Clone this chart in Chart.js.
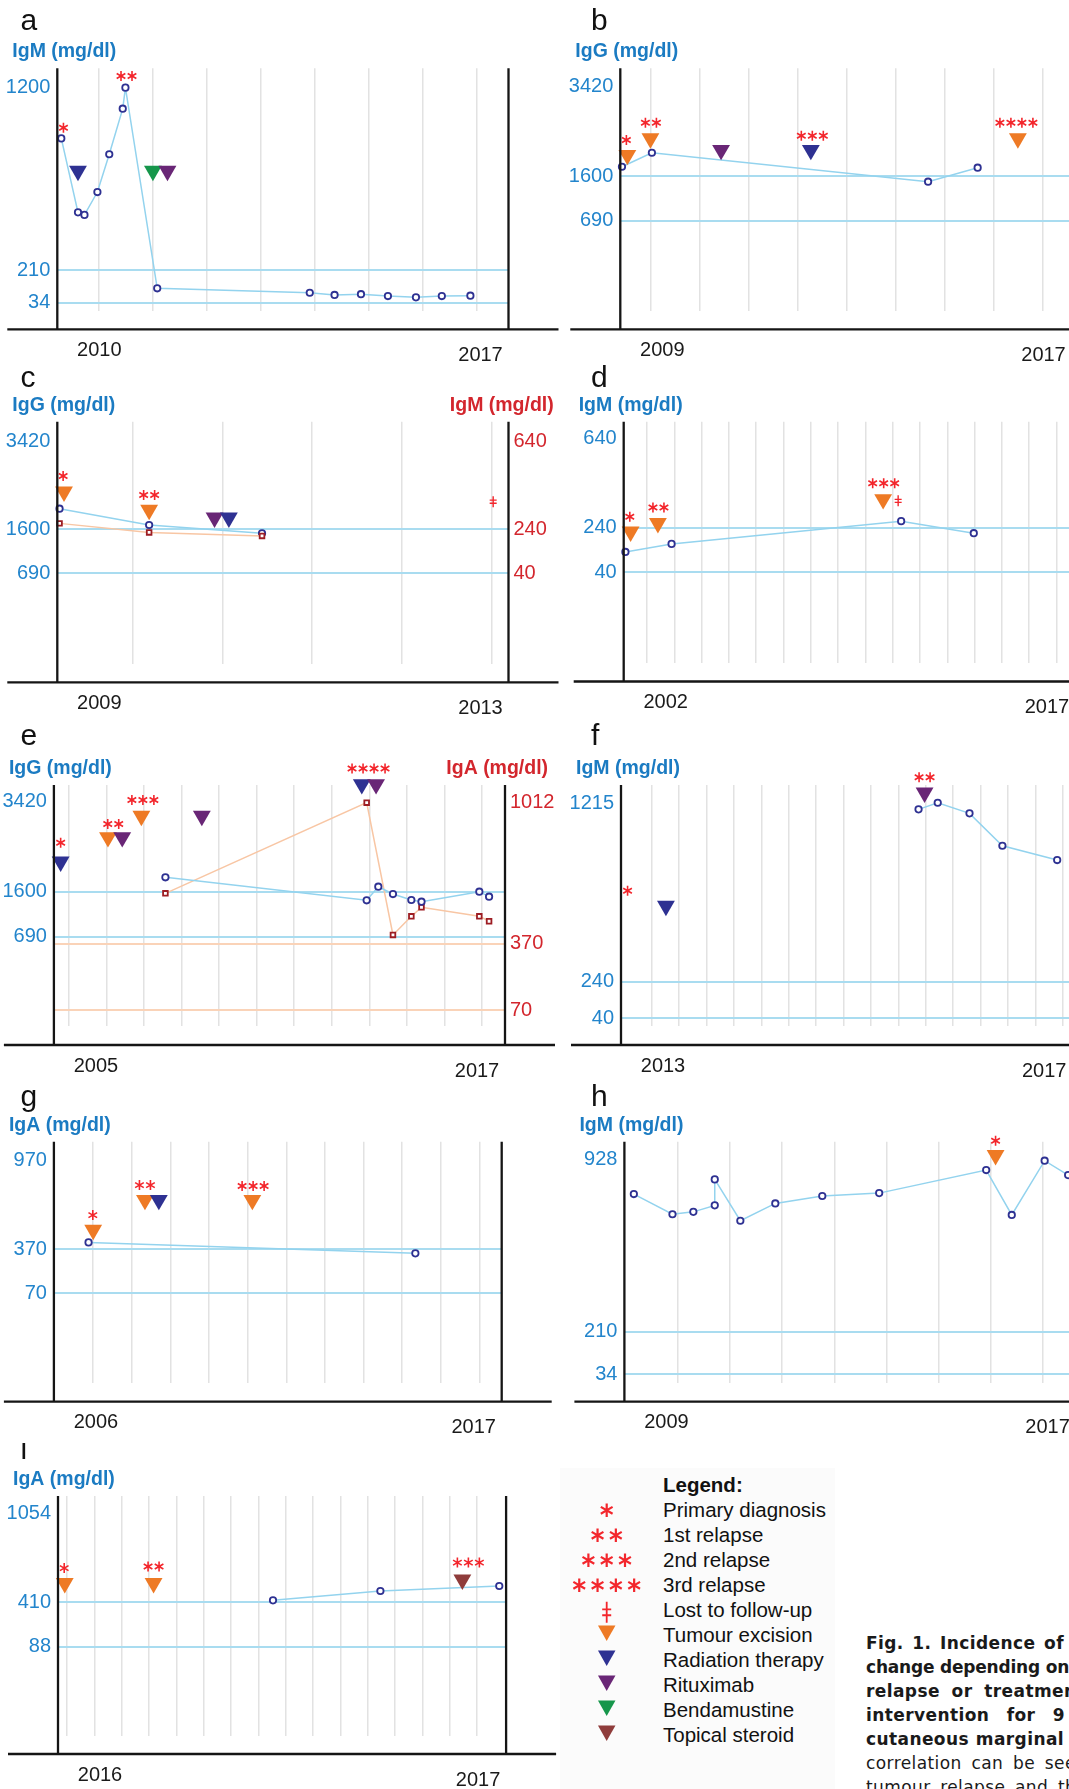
<!DOCTYPE html>
<html>
<head>
<meta charset="utf-8">
<script src="https://cdn.jsdelivr.net/npm/chart.js"></script>
<style>
  html, body { margin: 0; padding: 0; background: #fff; }
  body { width: 1069px; height: 1789px; overflow: hidden; position: relative; font-family: "Liberation Sans", Arial, sans-serif; }
  canvas { position: absolute; }
  .tint { position: absolute; background: #fbfbfb; }
  .lg { position: absolute; left: 663px; font-size: 20.5px; line-height: 20px; color: #111; white-space: nowrap; }
  .cap { position: absolute; left: 866px; font-family: "DejaVu Sans", Verdana, sans-serif; font-size: 17px; line-height: 20px; color: #1a1a1a; white-space: nowrap; text-align: justify; text-align-last: justify; letter-spacing: .4px; }
</style>
</head>
<body>
<div class="tint" style="left:560px;top:1468px;width:275px;height:321px"></div>
<script>
// ---- a: IgM
const aYears = [2009.30, 2009.61, 2009.73, 2009.97, 2010.19, 2010.44, 2010.49, 2011.08, 2013.91, 2014.37, 2014.86, 2015.36, 2015.88, 2016.36, 2016.89]
const aIgM = [925, 524, 510, 634, 839, 1086, 1200, 112, 88, 76, 80, 70, 63, 70, 72]
const aTxYears = [2009.61, 2011.0, 2011.27]
const aTxLevels = [748, 748, 748]
const aTxKinds = ['radiation', 'bendamustine', 'rituximab']
const aRelYears = [2009.34, 2010.51]
const aRelLevels = [983, 1263]
const aRelStars = [1, 2]
const aTicks = [34, 210, 1200]
const aNormal = [34, 210]
const aGrid = [2010, 2011, 2012, 2013, 2014, 2015, 2016, 2017]
const aYearLabels = ['2010', '2017']

// ---- b: IgG
const bYears = [2008.42, 2009.03, 2014.66, 2015.67]
const bIgG = [1789, 2074, 1484, 1769]
const bTxYears = [2008.53, 2009.0, 2010.44, 2012.27, 2016.49]
const bTxLevels = [2027, 2367, 2129, 2129, 2367]
const bTxKinds = ['excision', 'excision', 'rituximab', 'radiation', 'excision']
const bRelYears = [2008.51, 2009.01, 2012.3, 2016.46]
const bRelLevels = [2333, 2685, 2420, 2685]
const bRelStars = [1, 2, 3, 4]
const bTicks = [690, 1600, 3420]
const bNormal = [690, 1600]
const bGrid = [2009, 2010, 2011, 2012, 2013, 2014, 2015, 2016, 2017]
const bYearLabels = ['2009', '2017']

// ---- c: IgG (left) + IgM (right)
const cYears = [2008.18, 2009.18, 2010.44]
const cIgG = [2026, 1689, 1517]
const cIgM = [267, 226, 210]
const cTxYears = [2008.23, 2009.18, 2009.91, 2010.07]
const cTxLevels = [2378, 1999, 1840, 1840]
const cTxKinds = ['excision', 'excision', 'rituximab', 'radiation']
const cRelYears = [2008.22, 2009.18]
const cRelLevels = [2702, 2309]
const cRelStars = [1, 2]
const cLostYears = [2013.02]
const cLostLevels = [2171]
const cTicks = [690, 1600, 3420]
const cNormal = [690, 1600]
const cTicksRight = [40, 240, 640]
const cGrid = [2009, 2010, 2011, 2012, 2013]
const cYearLabels = ['2009', '2013']

// ---- d: IgM
const dYears = [2001.21, 2002.9, 2011.31, 2013.97]
const dIgM = [131, 167, 269, 215]
const dTxYears = [2001.4, 2002.4, 2010.65]
const dTxLevels = [222, 260, 367]
const dTxKinds = ['excision', 'excision', 'excision']
const dRelYears = [2001.37, 2002.42, 2010.67]
const dRelLevels = [289, 330, 439]
const dRelStars = [1, 2, 3]
const dLostYears = [2011.2]
const dLostLevels = [360]
const dTicks = [40, 240, 640]
const dNormal = [40, 240]
const dGrid = [2002, 2003, 2004, 2005, 2006, 2007, 2008, 2009, 2010, 2011, 2012, 2013, 2014, 2015, 2016, 2017]
const dYearLabels = ['2002', '2017']

// ---- e: IgG (left) + IgA (right)
const eYears = [2008.57, 2013.93, 2014.24, 2014.63, 2015.12, 2015.39, 2016.93, 2017.19]
const eIgG = [1891, 1426, 1701, 1553, 1432, 1398, 1600, 1499]
const eIgAYears = [2008.57, 2013.93, 2014.63, 2015.12, 2015.39, 2016.93, 2017.19]
const eIgA = [599, 1009, 411, 495, 536, 495, 473]
const eTxYears = [2005.78, 2007.04, 2007.42, 2007.93, 2009.54, 2013.8, 2014.18]
const eTxLevels = [2207, 2700, 2700, 3131, 3131, 3772, 3772]
const eTxKinds = ['radiation', 'excision', 'rituximab', 'excision', 'rituximab', 'radiation', 'rituximab']
const eRelYears = [2005.78, 2007.18, 2007.97, 2013.98]
const eRelLevels = [2591, 2969, 3454, 4092]
const eRelStars = [1, 2, 3, 4]
const eTicks = [690, 1600, 3420]
const eNormal = [690, 1600]
const eTicksRight = [70, 370, 1012]
const eNormalRight = [70, 370]
const eGrid = [2006, 2007, 2008, 2009, 2010, 2011, 2012, 2013, 2014, 2015, 2016, 2017]
const eYearLabels = ['2005', '2017']

// ---- f: IgM
const fYears = [2015.435, 2015.61, 2015.9, 2016.2, 2016.70]
const fIgM = [1182, 1218, 1160, 983, 905]
const fTxYears = [2013.13, 2015.49]
const fTxLevels = [654, 1273]
const fTxKinds = ['radiation', 'rituximab']
const fRelYears = [2012.78, 2015.49]
const fRelLevels = [737, 1357]
const fRelStars = [1, 2]
const fTicks = [40, 240, 1215]
const fNormal = [40, 240]
const fGrid = [2013, 2013.25, 2013.5, 2013.75, 2014, 2014.25, 2014.5, 2014.75, 2015, 2015.25, 2015.5, 2015.75, 2016, 2016.25, 2016.5, 2016.75]
const fYearLabels = ['2013', '2017']

// ---- g: IgA
const gYears = [2006.88, 2015.34]
const gIgA = [415, 341]
const gTxYears = [2007.0, 2008.34, 2008.7, 2011.12]
const gTxLevels = [499, 702, 702, 702]
const gTxKinds = ['excision', 'excision', 'radiation', 'excision']
const gRelYears = [2006.99, 2008.34, 2011.14]
const gRelLevels = [600, 803, 797]
const gRelStars = [1, 2, 3]
const gTicks = [70, 370, 970]
const gNormal = [70, 370]
const gGrid = [2007, 2008, 2009, 2010, 2011, 2012, 2013, 2014, 2015, 2016, 2017]
const gYearLabels = ['2006', '2017']

// ---- h: IgM
const hYears = [2009.16, 2009.9, 2010.3, 2010.71, 2010.71, 2011.2, 2011.87, 2012.77, 2013.86, 2015.91, 2016.4, 2017.03, 2017.48]
const hIgM = [783, 699, 709, 736, 844, 672, 744, 775, 787, 883, 696, 922, 862]
const hTxYears = [2016.09]
const hTxLevels = [945]
const hTxKinds = ['excision']
const hRelYears = [2016.09]
const hRelLevels = [1005]
const hRelStars = [1]
const hTicks = [34, 210, 928]
const hNormal = [34, 210]
const hGrid = [2010, 2011, 2012, 2013, 2014, 2015, 2016, 2017]
const hYearLabels = ['2009', '2017']

// ---- i: IgA (months from start)
const iMonths = [7.53, 11.46, 15.81]
const iIgA = [424, 492, 528]
const iTxMonths = [-0.09, 3.16, 14.46]
const iTxLevels = [548, 548, 574]
const iTxKinds = ['excision', 'excision', 'steroid']
const iRelMonths = [-0.11, 3.16, 14.68]
const iRelLevels = [658, 670, 698]
const iRelStars = [1, 2, 3]
const iTicks = [88, 410, 1054]
const iNormal = [88, 410]
const iGrid = [0, 1, 2, 3, 4, 5, 6, 7, 8, 9, 10, 11, 12, 13, 14, 15]
const iYearLabels = ['2016', '2017']

// ---- legend / caption
const legendLabels = ['Primary diagnosis', '1st relapse', '2nd relapse', '3rd relapse', 'Lost to follow-up', 'Tumour excision', 'Radiation therapy', 'Rituximab', 'Bendamustine', 'Topical steroid']
const legendKinds = ['star1', 'star2', 'star3', 'star4', 'lost', 'excision', 'radiation', 'rituximab', 'bendamustine', 'steroid']
const captionLines = ['Fig. 1. Incidence of', 'change depending on', 'relapse or treatment', 'intervention for 9', 'cutaneous marginal', 'correlation can be seen', 'tumour relapse and the']

const FONT = '"Liberation Sans", Arial, sans-serif'
const BLUE = '#2385cc'
const TITLE_BLUE = '#1b7bc2'
const RED_TEXT = '#d3262d'
const STAR_RED = '#f3262c'
const NAVY = '#2e3192'
const LINE_BLUE = '#93d3ee'
const NORMAL_BLUE = '#a9dcf0'
const PEACH = '#f8c6a4'
const NORMAL_PEACH = '#fad3b8'
const SQUARE_RED = '#9d1d23'
const TX_COLORS = {
  excision: '#ee7a25',
  radiation: '#2e3192',
  rituximab: '#692676',
  bendamustine: '#16964b',
  steroid: '#8f3c3b'
}

function drawStar(ctx, x, y, r) {
  ctx.beginPath()
  for (const a of [90, 30, -30]) {
    const dx = Math.cos(a * Math.PI / 180) * r
    const dy = Math.sin(a * Math.PI / 180) * r
    ctx.moveTo(x - dx, y - dy)
    ctx.lineTo(x + dx, y + dy)
  }
  ctx.stroke()
}

function drawStars(ctx, x, y, n, r, pitch) {
  for (let k = 0; k < n; k++) drawStar(ctx, x + (k - (n - 1) / 2) * pitch, y, r)
}

function drawDagger(ctx, x, y, h, w) {
  ctx.beginPath()
  ctx.moveTo(x, y - h / 2)
  ctx.lineTo(x, y + h / 2)
  ctx.moveTo(x - w / 2, y - h * 0.14)
  ctx.lineTo(x + w / 2, y - h * 0.14)
  ctx.moveTo(x - w / 2, y + h * 0.14)
  ctx.lineTo(x + w / 2, y + h * 0.14)
  ctx.stroke()
}

function drawTriangle(ctx, x, y, w, h, color) {
  ctx.fillStyle = color
  ctx.beginPath()
  ctx.moveTo(x - w / 2, y - h / 2)
  ctx.lineTo(x + w / 2, y - h / 2)
  ctx.lineTo(x, y + h / 2)
  ctx.closePath()
  ctx.fill()
}

const LEFT = { left: 0, w: 580, letterX: 20.5 }
const RIGHT = { left: 535, w: 560, letterX: 591 }

const panels = [
  { key: 'a', title: 'IgM (mg/dl)', grid: aGrid, yearLabels: aYearLabels,
    series: [{ x: aYears, y: aIgM }], yTicks: aTicks, yNormal: aNormal,
    tx: { x: aTxYears, y: aTxLevels, kind: aTxKinds }, rel: { x: aRelYears, y: aRelLevels, n: aRelStars },
    box: { ...LEFT, top: 0, h: 380, axL: 57.3, axR: 508.5, axTop: 68.3, gridBottom: 311, base: 329.3, letterY: 29.5, xMin: 2009.226, xMax: 2017.597, yMin: -11, yMax: 1305 } },
  { key: 'b', title: 'IgG (mg/dl)', grid: bGrid, yearLabels: bYearLabels,
    series: [{ x: bYears, y: bIgG }], yTicks: bTicks, yNormal: bNormal,
    tx: { x: bTxYears, y: bTxLevels, kind: bTxKinds }, rel: { x: bRelYears, y: bRelLevels, n: bRelStars },
    box: { ...RIGHT, top: 0, h: 380, axL: 620.3, axR: 1071.5, axTop: 68.3, gridBottom: 311, base: 329.3, letterY: 29.5, xMin: 2008.386, xMax: 2017.583, yMin: -1148, yMax: 3793 } },
  { key: 'c', title: 'IgG (mg/dl)', title2: 'IgM (mg/dl)', grid: cGrid, yearLabels: cYearLabels,
    series: [{ x: cYears, y: cIgM, right: true }, { x: cYears, y: cIgG }], yTicks: cTicks, yNormal: cNormal,
    y2Ticks: cTicksRight, y2Normal: [],
    tx: { x: cTxYears, y: cTxLevels, kind: cTxKinds }, rel: { x: cRelYears, y: cRelLevels, n: cRelStars },
    lost: { x: cLostYears, y: cLostLevels },
    box: { ...LEFT, top: 360, h: 380, axL: 57.3, axR: 508.5, axTop: 421.7, gridBottom: 664, base: 682.3, letterY: 387, xMin: 2008.155, xMax: 2013.191, yMin: -1186, yMax: 3825, y2Min: -372, y2Max: 729 } },
  { key: 'd', title: 'IgM (mg/dl)', grid: dGrid, yearLabels: dYearLabels,
    series: [{ x: dYears, y: dIgM }], yTicks: dTicks, yNormal: dNormal,
    tx: { x: dTxYears, y: dTxLevels, kind: dTxKinds }, rel: { x: dRelYears, y: dRelLevels, n: dRelStars },
    lost: { x: dLostYears, y: dLostLevels },
    box: { ...RIGHT, top: 360, h: 380, axL: 623.7, axR: 1074.9, axTop: 421.7, gridBottom: 663, base: 681.5, letterY: 387, xMin: 2001.147, xMax: 2017.674, yMin: -367, yMax: 715 } },
  { key: 'e', title: 'IgG (mg/dl)', title2: 'IgA (mg/dl)', grid: eGrid, yearLabels: eYearLabels,
    series: [{ x: eYears, y: eIgG }, { x: eIgAYears, y: eIgA, right: true }], yTicks: eTicks, yNormal: eNormal,
    y2Ticks: eTicksRight, y2Normal: eNormalRight,
    tx: { x: eTxYears, y: eTxLevels, kind: eTxKinds }, rel: { x: eRelYears, y: eRelLevels, n: eRelStars },
    box: { ...LEFT, top: 720, h: 380, axL: 53.9, axR: 505, axTop: 785, gridBottom: 1026, base: 1045, letterY: 745, xMin: 2005.6, xMax: 2017.614, yMin: -1116, yMax: 3758, y2Min: -1, y2Max: 1089 } },
  { key: 'f', title: 'IgM (mg/dl)', grid: fGrid, yearLabels: fYearLabels,
    series: [{ x: fYears, y: fIgM }], yTicks: fTicks, yNormal: fNormal,
    tx: { x: fTxYears, y: fTxLevels, kind: fTxKinds }, rel: { x: fRelYears, y: fRelLevels, n: fRelStars },
    box: { ...RIGHT, top: 720, h: 380, axL: 621, axR: 1072.2, axTop: 785, gridBottom: 1026, base: 1045, letterY: 745, xMin: 2012.72, xMax: 2016.837, yMin: -2, yMax: 1315 } },
  { key: 'g', title: 'IgA (mg/dl)', grid: gGrid, yearLabels: gYearLabels,
    series: [{ x: gYears, y: gIgA }], yTicks: gTicks, yNormal: gNormal,
    tx: { x: gTxYears, y: gTxLevels, kind: gTxKinds }, rel: { x: gRelYears, y: gRelLevels, n: gRelStars },
    box: { ...LEFT, top: 1080, h: 380, axL: 53.9, axR: 501.7, axTop: 1141.7, gridBottom: 1383.3, base: 1401.7, letterY: 1106, xMin: 2005.983, xMax: 2017.575, yMin: -539, yMax: 1097 } },
  { key: 'h', title: 'IgM (mg/dl)', grid: hGrid, yearLabels: hYearLabels,
    series: [{ x: hYears, y: hIgM }], yTicks: hTicks, yNormal: hNormal,
    tx: { x: hTxYears, y: hTxLevels, kind: hTxKinds }, rel: { x: hRelYears, y: hRelLevels, n: hRelStars },
    box: { ...RIGHT, top: 1080, h: 380, axL: 624.4, axR: 1075.6, axTop: 1141.7, gridBottom: 1383.3, base: 1401.7, letterY: 1106, xMin: 2008.979, xMax: 2017.623, yMin: -4.7, yMax: 1001 } },
  { key: 'i', title: 'IgA (mg/dl)', grid: iGrid, yearLabels: iYearLabels,
    series: [{ x: iMonths, y: iIgA }], yTicks: iTicks, yNormal: iNormal,
    tx: { x: iTxMonths, y: iTxLevels, kind: iTxKinds }, rel: { x: iRelMonths, y: iRelLevels, n: iRelStars },
    box: { ...LEFT, top: 1440, h: 349, axL: 58, axR: 506.1, axTop: 1496, gridBottom: 1736, base: 1754, letterY: 1459, xMin: -0.337, xMax: 16.06, yMin: -560, yMax: 1181 } }
]

// axes, baseline, panel letter, titles, year labels, relapse stars
function deco(p) {
  const b = p.box
  return {
    id: 'deco',
    afterDatasetsDraw(chart) {
      const { ctx, chartArea } = chart
      const { left, right, top } = chartArea
      const base = b.base - b.top
      ctx.save()
      ctx.strokeStyle = '#151515'
      ctx.lineWidth = 2.3
      ctx.beginPath()
      ctx.moveTo(left, top)
      ctx.lineTo(left, base)
      ctx.moveTo(right, top)
      ctx.lineTo(right, base)
      ctx.moveTo(left - 50, base)
      ctx.lineTo(right + 50, base)
      ctx.stroke()

      ctx.textAlign = 'left'
      ctx.textBaseline = 'alphabetic'
      ctx.fillStyle = '#111'
      ctx.font = '30px ' + FONT
      ctx.fillText(p.key, b.letterX - b.left, b.letterY - b.top)
      ctx.font = 'bold 19.5px ' + FONT
      ctx.fillStyle = TITLE_BLUE
      ctx.fillText(p.title, left - 45, top - 11)
      if (p.title2) {
        ctx.fillStyle = RED_TEXT
        ctx.fillText(p.title2, right - 58.7, top - 11)
      }

      ctx.font = '20px ' + FONT
      ctx.fillStyle = '#1a1a1a'
      ctx.textAlign = 'center'
      ctx.textBaseline = 'middle'
      ctx.fillText(p.yearLabels[0], left + 42, base + 21)
      ctx.fillText(p.yearLabels[1], right - 28, base + 26)

      const xs = chart.scales.x
      const ys = chart.scales.y
      ctx.strokeStyle = STAR_RED
      ctx.lineWidth = 1.6
      p.rel.x.forEach((v, i) => {
        drawStars(ctx, xs.getPixelForValue(v), ys.getPixelForValue(p.rel.y[i]), p.rel.n[i], 5, 11)
      })
      if (p.lost) {
        ctx.lineWidth = 1.4
        p.lost.x.forEach((v, i) => {
          drawDagger(ctx, xs.getPixelForValue(v), ys.getPixelForValue(p.lost.y[i]), 11, 7)
        })
      }
      ctx.restore()
    }
  }
}

function yAxis(ticks, normal, color, lineColor, width, pad, position, min, max) {
  return {
    position, min, max,
    border: { display: false },
    grid: {
      drawTicks: false,
      lineWidth: 2,
      display: normal.length > 0,
      color: c => (c.tick && normal.includes(c.tick.value)) ? lineColor : 'rgba(0,0,0,0)'
    },
    ticks: { color, padding: pad, font: { family: FONT, size: 20 }, callback: v => String(v) },
    afterBuildTicks: s => { s.ticks = ticks.map(v => ({ value: v })) },
    afterFit: s => { s.width = width }
  }
}

function makePanel(p) {
  const b = p.box
  const cv = document.createElement('canvas')
  cv.width = b.w
  cv.height = b.h
  cv.style.left = b.left + 'px'
  cv.style.top = b.top + 'px'
  document.body.appendChild(cv)

  const datasets = p.series.map(s => ({
    data: s.x.map((x, i) => ({ x, y: s.y[i] })),
    yAxisID: s.right ? 'y2' : 'y',
    showLine: true,
    borderColor: s.right ? PEACH : LINE_BLUE,
    borderWidth: 1.5,
    pointStyle: s.right ? 'rect' : 'circle',
    pointRadius: s.right ? 3.3 : 3.2,
    pointBorderWidth: 1.8,
    pointBorderColor: s.right ? SQUARE_RED : NAVY,
    pointBackgroundColor: '#fff',
    clip: false
  }))
  datasets.unshift({
    data: p.tx.x.map((x, i) => ({ x, y: p.tx.y[i] })),
    yAxisID: 'y',
    showLine: false,
    pointStyle: 'triangle',
    pointRotation: 180,
    pointRadius: 10.3,
    pointBorderWidth: 0,
    pointBackgroundColor: p.tx.kind.map(k => TX_COLORS[k]),
    clip: false
  })

  const rightGap = b.left + b.w - b.axR
  const scales = {
    x: {
      type: 'linear', min: b.xMin, max: b.xMax,
      border: { display: false },
      grid: { color: '#e2e2e2', lineWidth: 1.5, drawTicks: false },
      ticks: { display: false },
      afterBuildTicks: s => { s.ticks = p.grid.map(v => ({ value: v })) },
      afterFit: s => { s.height = b.h - (b.gridBottom - b.top) }
    },
    y: yAxis(p.yTicks, p.yNormal, BLUE, NORMAL_BLUE, b.axL - b.left, 7, 'left', b.yMin, b.yMax)
  }
  if (p.y2Ticks) {
    scales.y2 = yAxis(p.y2Ticks, p.y2Normal, RED_TEXT, NORMAL_PEACH, rightGap, 5, 'right', b.y2Min, b.y2Max)
  }

  new Chart(cv, {
    type: 'scatter',
    data: { datasets },
    options: {
      responsive: false,
      animation: false,
      events: [],
      layout: { padding: { top: b.axTop - b.top, right: p.y2Ticks ? 0 : rightGap, bottom: 0, left: 0 } },
      plugins: { legend: { display: false }, tooltip: { enabled: false } },
      scales
    },
    plugins: [deco(p)]
  })
}

panels.forEach(makePanel)

// legend
const legendTop = 1470
const lgCanvas = document.createElement('canvas')
lgCanvas.width = 80
lgCanvas.height = 290
lgCanvas.style.left = '567px'
lgCanvas.style.top = legendTop + 'px'
document.body.appendChild(lgCanvas)
const lctx = lgCanvas.getContext('2d')
const title = document.createElement('div')
title.className = 'lg'
title.style.top = (1491.7 - 17) + 'px'
title.style.fontWeight = 'bold'
title.textContent = 'Legend:'
document.body.appendChild(title)
legendLabels.forEach((label, i) => {
  const baseY = 1517.3 + i * 25
  const d = document.createElement('div')
  d.className = 'lg'
  d.style.top = (baseY - 17) + 'px'
  d.textContent = label
  document.body.appendChild(d)
  const cx = 606.7 - 567
  const cy = baseY - 7 - legendTop
  const kind = legendKinds[i]
  lctx.strokeStyle = STAR_RED
  if (kind.startsWith('star')) {
    lctx.lineWidth = 2.2
    drawStars(lctx, cx, cy, Number(kind.slice(4)), 6.8, 18.3)
  } else if (kind === 'lost') {
    lctx.lineWidth = 1.8
    drawDagger(lctx, cx, cy + 2, 21, 9)
  } else {
    drawTriangle(lctx, cx, cy - 2, 17.5, 15.5, TX_COLORS[kind])
  }
})

// caption
const captionWidths = [198, 201, 219, 199, 198, 221, 221]
captionLines.forEach((line, i) => {
  const d = document.createElement('div')
  d.className = 'cap'
  d.style.top = (1649.3 + i * 24 - 16) + 'px'
  d.style.width = captionWidths[i] + 'px'
  d.style.fontWeight = i < 5 ? 'bold' : 'normal'
  if (i === 1) d.style.letterSpacing = '-0.2px'
  d.textContent = line
  document.body.appendChild(d)
})
</script>
</body>
</html>
